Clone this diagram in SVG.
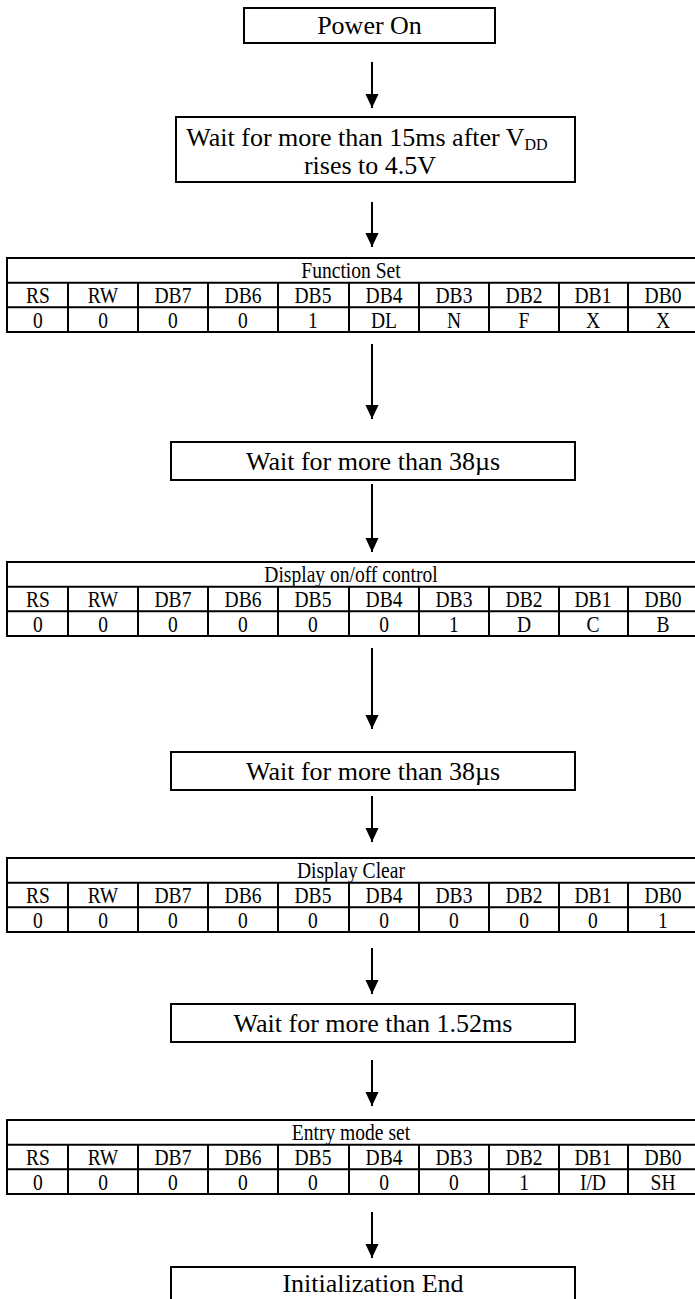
<svg xmlns="http://www.w3.org/2000/svg" width="695" height="1299" viewBox="0 0 695 1299">
<style>
  .box{fill:#fff;stroke:#000;stroke-width:2}
  .t{font-family:"Liberation Serif","Times New Roman",serif;fill:#000;text-anchor:middle}
  .big{font-size:26px}
  .sm{font-size:23px}
  .sub{font-size:16px}
  .tl{stroke:#000;stroke-width:2;fill:none}
  .conn line{stroke:#000;stroke-width:2}
</style>
<defs>
  <marker id="ah" markerUnits="userSpaceOnUse" markerWidth="14" markerHeight="15" refX="15" refY="7" orient="auto" viewBox="0 0 15 14">
    <path d="M0,0 L15,7 L0,14 Z" fill="#000"/>
  </marker>
  <g id="grid" class="tl">
    <rect x="7" y="0" width="690" height="74"/>
    <line x1="7" y1="24.7" x2="697" y2="24.7"/>
    <line x1="7" y1="49.3" x2="697" y2="49.3"/>
    <line x1="68" y1="24.7" x2="68" y2="74"/>
    <line x1="138" y1="24.7" x2="138" y2="74"/>
    <line x1="208" y1="24.7" x2="208" y2="74"/>
    <line x1="278" y1="24.7" x2="278" y2="74"/>
    <line x1="349" y1="24.7" x2="349" y2="74"/>
    <line x1="419" y1="24.7" x2="419" y2="74"/>
    <line x1="489" y1="24.7" x2="489" y2="74"/>
    <line x1="559" y1="24.7" x2="559" y2="74"/>
    <line x1="628" y1="24.7" x2="628" y2="74"/>
  </g>
  <g id="hdr">
    <text x="44.7" y="0">RS</text><text x="121.2" y="0">RW</text><text x="203.5" y="0">DB7</text><text x="285.9" y="0">DB6</text><text x="368.2" y="0">DB5</text><text x="451.8" y="0">DB4</text><text x="534.1" y="0">DB3</text><text x="616.5" y="0">DB2</text><text x="697.6" y="0">DB1</text><text x="780" y="0">DB0</text>
  </g>
</defs>

<g id="power-on">
  <rect class="box" x="244" y="8" width="251" height="35"/>
  <text class="t big" x="369.5" y="34">Power On</text>
</g>

<g id="wait-15ms">
  <rect class="box" x="176" y="117" width="399" height="65"/>
  <text class="t big" x="367" y="146">Wait for more than 15ms after V<tspan class="sub" dy="4">DD</tspan></text>
  <text class="t big" x="370" y="174">rises to 4.5V</text>
</g>

<g id="function-set">
  <use href="#grid" transform="translate(0,258)"/>
  <g class="t sm" transform="translate(0,278) scale(0.85,1)"><text x="412.9" y="0">Function Set</text></g>
  <g class="t sm" transform="translate(0,303) scale(0.85,1)"><use href="#hdr"/></g>
  <g class="t sm" transform="translate(0,327.5) scale(0.85,1)">
    <text x="44.7" y="0">0</text><text x="121.2" y="0">0</text><text x="203.5" y="0">0</text><text x="285.9" y="0">0</text><text x="368.2" y="0">1</text><text x="451.8" y="0">DL</text><text x="534.1" y="0">N</text><text x="616.5" y="0">F</text><text x="697.6" y="0">X</text><text x="780" y="0">X</text>
  </g>
</g>

<g id="wait-38us-1">
  <rect class="box" x="171" y="442" width="404" height="38"/>
  <text class="t big" x="373" y="470">Wait for more than 38µs</text>
</g>

<g id="display-onoff">
  <use href="#grid" transform="translate(0,562)"/>
  <g class="t sm" transform="translate(0,582) scale(0.85,1)"><text x="412.9" y="0">Display on/off control</text></g>
  <g class="t sm" transform="translate(0,607) scale(0.85,1)"><use href="#hdr"/></g>
  <g class="t sm" transform="translate(0,631.5) scale(0.85,1)">
    <text x="44.7" y="0">0</text><text x="121.2" y="0">0</text><text x="203.5" y="0">0</text><text x="285.9" y="0">0</text><text x="368.2" y="0">0</text><text x="451.8" y="0">0</text><text x="534.1" y="0">1</text><text x="616.5" y="0">D</text><text x="697.6" y="0">C</text><text x="780" y="0">B</text>
  </g>
</g>

<g id="wait-38us-2">
  <rect class="box" x="171" y="752" width="404" height="38"/>
  <text class="t big" x="373" y="780">Wait for more than 38µs</text>
</g>

<g id="display-clear">
  <use href="#grid" transform="translate(0,858)"/>
  <g class="t sm" transform="translate(0,878) scale(0.85,1)"><text x="412.9" y="0">Display Clear</text></g>
  <g class="t sm" transform="translate(0,903) scale(0.85,1)"><use href="#hdr"/></g>
  <g class="t sm" transform="translate(0,927.5) scale(0.85,1)">
    <text x="44.7" y="0">0</text><text x="121.2" y="0">0</text><text x="203.5" y="0">0</text><text x="285.9" y="0">0</text><text x="368.2" y="0">0</text><text x="451.8" y="0">0</text><text x="534.1" y="0">0</text><text x="616.5" y="0">0</text><text x="697.6" y="0">0</text><text x="780" y="0">1</text>
  </g>
</g>

<g id="wait-1-52ms">
  <rect class="box" x="171" y="1004" width="404" height="38"/>
  <text class="t big" x="373" y="1032">Wait for more than 1.52ms</text>
</g>

<g id="entry-mode">
  <use href="#grid" transform="translate(0,1120)"/>
  <g class="t sm" transform="translate(0,1140) scale(0.85,1)"><text x="412.9" y="0">Entry mode set</text></g>
  <g class="t sm" transform="translate(0,1165) scale(0.85,1)"><use href="#hdr"/></g>
  <g class="t sm" transform="translate(0,1189.5) scale(0.85,1)">
    <text x="44.7" y="0">0</text><text x="121.2" y="0">0</text><text x="203.5" y="0">0</text><text x="285.9" y="0">0</text><text x="368.2" y="0">0</text><text x="451.8" y="0">0</text><text x="534.1" y="0">0</text><text x="616.5" y="0">1</text><text x="697.6" y="0">I/D</text><text x="780" y="0">SH</text>
  </g>
</g>

<g id="init-end">
  <rect class="box" x="171" y="1267" width="404" height="40"/>
  <text class="t big" x="373" y="1292">Initialization End</text>
</g>

<g id="connectors" class="conn">
  <line x1="372" y1="62" x2="372" y2="108" marker-end="url(#ah)"/>
  <line x1="372" y1="202" x2="372" y2="247" marker-end="url(#ah)"/>
  <line x1="372" y1="344" x2="372" y2="419" marker-end="url(#ah)"/>
  <line x1="372" y1="484" x2="372" y2="552" marker-end="url(#ah)"/>
  <line x1="372" y1="648" x2="372" y2="729" marker-end="url(#ah)"/>
  <line x1="372" y1="796" x2="372" y2="842" marker-end="url(#ah)"/>
  <line x1="372" y1="948" x2="372" y2="994" marker-end="url(#ah)"/>
  <line x1="372" y1="1060" x2="372" y2="1106" marker-end="url(#ah)"/>
  <line x1="372" y1="1212" x2="372" y2="1258" marker-end="url(#ah)"/>
</g>
</svg>
